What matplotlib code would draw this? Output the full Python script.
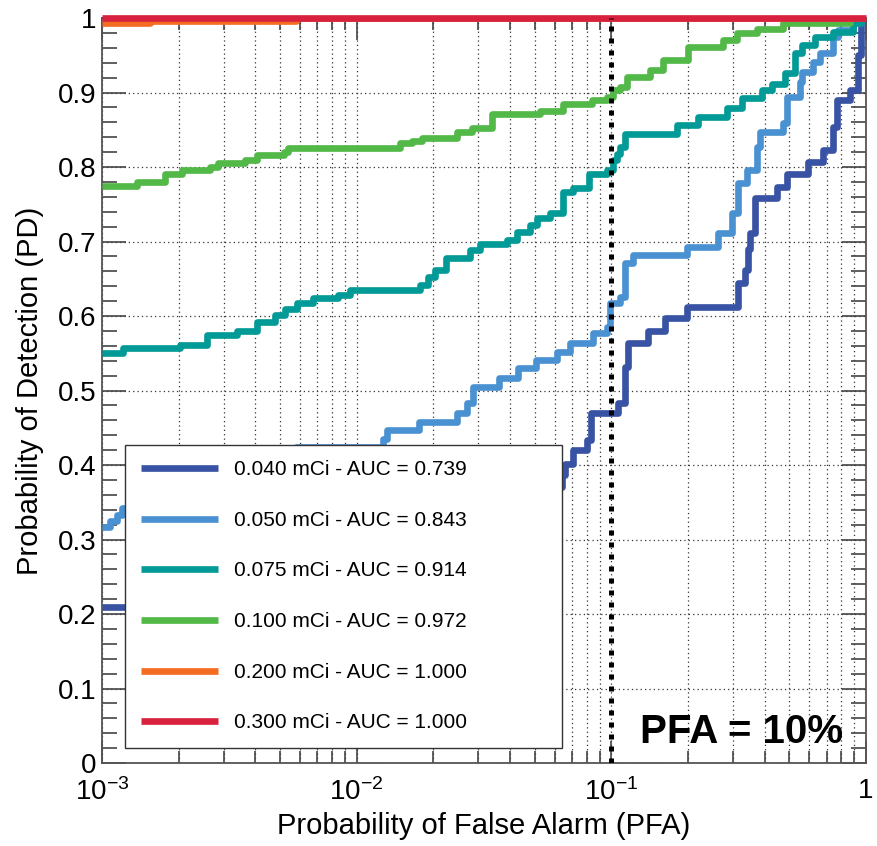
import matplotlib
matplotlib.use("Agg")
import matplotlib.pyplot as plt
from matplotlib.ticker import FixedLocator, FixedFormatter, LogLocator, MultipleLocator, NullFormatter

plt.rcParams['font.family'] = ['Liberation Sans', 'DejaVu Sans']
plt.rcParams['mathtext.default'] = 'regular'

labels = ["0.040 mCi - AUC = 0.739", "0.050 mCi - AUC = 0.843", "0.075 mCi - AUC = 0.914",
          "0.100 mCi - AUC = 0.972", "0.200 mCi - AUC = 1.000", "0.300 mCi - AUC = 1.000"]
colors = ["#3953a4", "#4a91d2", "#019a96", "#52b847", "#f36c21", "#d8213e"]

fpr_040 = [0.001, 0.0015, 0.0025, 0.004, 0.007, 0.012, 0.02, 0.035, 0.05, 0.064, 0.0658, 0.0707, 0.080, 0.083,
           0.1061, 0.113, 0.1162, 0.1392, 0.1623, 0.1981, 0.3143, 0.3345, 0.345, 0.352, 0.3663, 0.447, 0.4892,
           0.5915, 0.6774, 0.7413, 0.7688, 0.8648, 0.93, 0.96, 1.0]
tpr_040 = [0.209, 0.22, 0.24, 0.26, 0.28, 0.30, 0.32, 0.35, 0.37, 0.387, 0.402, 0.420, 0.434, 0.470,
           0.483, 0.532, 0.564, 0.580, 0.597, 0.612, 0.644, 0.662, 0.690, 0.711, 0.758, 0.773, 0.791,
           0.807, 0.823, 0.854, 0.890, 0.903, 0.95, 1.0, 1.0]

fpr_050 = [0.001, 0.00107, 0.00115, 0.0012, 0.0016, 0.0025, 0.004, 0.0058, 0.0127, 0.0132, 0.0175, 0.0248,
           0.0270, 0.0286, 0.0362, 0.0430, 0.0505, 0.0612, 0.0688, 0.0847, 0.0961, 0.0987, 0.108, 0.113,
           0.1215, 0.1981, 0.262, 0.2976, 0.3143, 0.3406, 0.373, 0.3832, 0.4718, 0.4892, 0.5502, 0.5602,
           0.62, 0.6592, 0.7413, 0.7758, 0.8884, 0.96, 1.0]
tpr_050 = [0.317, 0.325, 0.333, 0.342, 0.36, 0.38, 0.40, 0.424, 0.435, 0.447, 0.458, 0.470,
           0.483, 0.505, 0.517, 0.530, 0.541, 0.552, 0.564, 0.577, 0.585, 0.617, 0.626, 0.671,
           0.682, 0.693, 0.711, 0.738, 0.778, 0.796, 0.827, 0.847, 0.859, 0.894, 0.914, 0.928,
           0.941, 0.953, 0.975, 0.984, 0.993, 1.0, 1.0]

fpr_075 = [0.001, 0.00121, 0.00202, 0.00258, 0.00339, 0.00406, 0.00477, 0.00523, 0.00583, 0.00674,
           0.00843, 0.0094, 0.0177, 0.0190, 0.0203, 0.0225, 0.0278, 0.0305, 0.039, 0.0426, 0.048, 0.051,
           0.0574, 0.0646, 0.0707, 0.082, 0.096, 0.1015, 0.1052, 0.108, 0.113, 0.181, 0.2188, 0.2845,
           0.3256, 0.3903, 0.4272, 0.4804, 0.5258, 0.5602, 0.630, 0.7413, 0.8884, 0.96, 1.0]
tpr_075 = [0.551, 0.557, 0.561, 0.575, 0.580, 0.592, 0.601, 0.610, 0.618, 0.624,
           0.628, 0.635, 0.642, 0.653, 0.662, 0.678, 0.689, 0.697, 0.702, 0.713, 0.722, 0.731,
           0.738, 0.766, 0.772, 0.790, 0.796, 0.809, 0.818, 0.827, 0.844, 0.856, 0.867, 0.879,
           0.892, 0.903, 0.912, 0.926, 0.953, 0.964, 0.975, 0.981, 0.993, 1.0, 1.0]

fpr_100 = [0.001, 0.00137, 0.00177, 0.00206, 0.00266, 0.00285, 0.00364, 0.00406, 0.0052, 0.00537,
           0.0148, 0.0165, 0.0180, 0.0248, 0.0284, 0.034, 0.0524, 0.0646, 0.0839, 0.0961, 0.1015,
           0.108, 0.1151, 0.1418, 0.1594, 0.1999, 0.2744, 0.3114, 0.373, 0.4718, 0.8648, 1.0]
tpr_100 = [0.775, 0.780, 0.791, 0.796, 0.800, 0.806, 0.810, 0.816, 0.820, 0.825,
           0.832, 0.835, 0.839, 0.847, 0.852, 0.871, 0.875, 0.885, 0.890, 0.894, 0.903,
           0.908, 0.921, 0.930, 0.944, 0.961, 0.970, 0.980, 0.985, 0.993, 1.0, 1.0]

fpr_200 = [0.001, 0.00154, 0.0058, 1.0]
tpr_200 = [0.993, 0.996, 1.0, 1.0]

fpr_300 = [0.001, 1.0]
tpr_300 = [1.0, 1.0]

pfa_line = 0.1
xticks = [1e-3, 1e-2, 1e-1, 1]
xticklabels = ["$10^{-3}$", "$10^{-2}$", "$10^{-1}$", "1"]
yticks = [0, 0.1, 0.2, 0.3, 0.4, 0.5, 0.6, 0.7, 0.8, 0.9, 1]
yticklabels = ["0", "0.1", "0.2", "0.3", "0.4", "0.5", "0.6", "0.7", "0.8", "0.9", "1"]

fig = plt.figure(figsize=(8.78, 8.46), dpi=100)
ax = fig.add_axes([0.1162, 0.0981, 0.8701, 0.8806])

curves = [(fpr_040, tpr_040), (fpr_050, tpr_050), (fpr_075, tpr_075),
          (fpr_100, tpr_100), (fpr_200, tpr_200), (fpr_300, tpr_300)]
for (f, t), c, lab in zip(curves, colors, labels):
    clip = not (f is fpr_300)
    ax.plot(f, t, drawstyle='steps-post', color=c, lw=4.8, label=lab, zorder=3,
            clip_on=clip, solid_capstyle='butt')

ax.axvline(pfa_line, color='black', lw=3.6, linestyle=(0, (1, 1.4)), zorder=5)

ax.set_xscale('log')
ax.set_xlim(1e-3, 1)
ax.set_ylim(0, 1)

ax.xaxis.set_major_locator(FixedLocator(xticks))
ax.xaxis.set_major_formatter(FixedFormatter(xticklabels))
ax.xaxis.set_minor_locator(LogLocator(base=10, subs=range(2, 10)))
ax.xaxis.set_minor_formatter(NullFormatter())
ax.yaxis.set_major_locator(FixedLocator(yticks))
ax.yaxis.set_major_formatter(FixedFormatter(yticklabels))
ax.yaxis.set_minor_locator(MultipleLocator(0.02))

ax.tick_params(which='both', direction='in', top=True, right=True, color='#444', width=1.2, labelsize=20)
ax.tick_params(axis='y', which='major', length=17, pad=4)
ax.tick_params(axis='y', which='minor', length=10.5)
ax.tick_params(axis='x', which='major', length=16, pad=11)
ax.tick_params(axis='x', which='minor', length=8.5)

for s in ax.spines.values():
    s.set_color('#555555')
    s.set_linewidth(1.3)

ax.grid(True, which='major', axis='y', color='#333333', linestyle=(0, (1, 2.5)), lw=0.9, zorder=1)
ax.grid(True, which='both', axis='x', color='#333333', linestyle=(0, (1, 2.5)), lw=0.9, zorder=1)
ax.set_axisbelow(True)

ax.set_xlabel("Probability of False Alarm (PFA)", fontsize=21, labelpad=4)
ax.set_ylabel("Probability of Detection (PD)", fontsize=21, labelpad=10)

leg = ax.legend(loc='lower left', bbox_to_anchor=(0.030, 0.020, 0.572, 0.403), mode='expand',
                fontsize=15, frameon=True, fancybox=False, framealpha=1, edgecolor='#333333',
                handlelength=3.7, handletextpad=0.8, labelspacing=1.52, borderpad=0.75,
                borderaxespad=0)
leg.get_frame().set_linewidth(1.0)
leg.set_zorder(6)

ax.text(0.704, 0.027, "PFA = 10%", transform=ax.transAxes, fontsize=29, fontweight='bold',
        ha='left', va='baseline', zorder=7)

fig.savefig("out.png", dpi=100)
